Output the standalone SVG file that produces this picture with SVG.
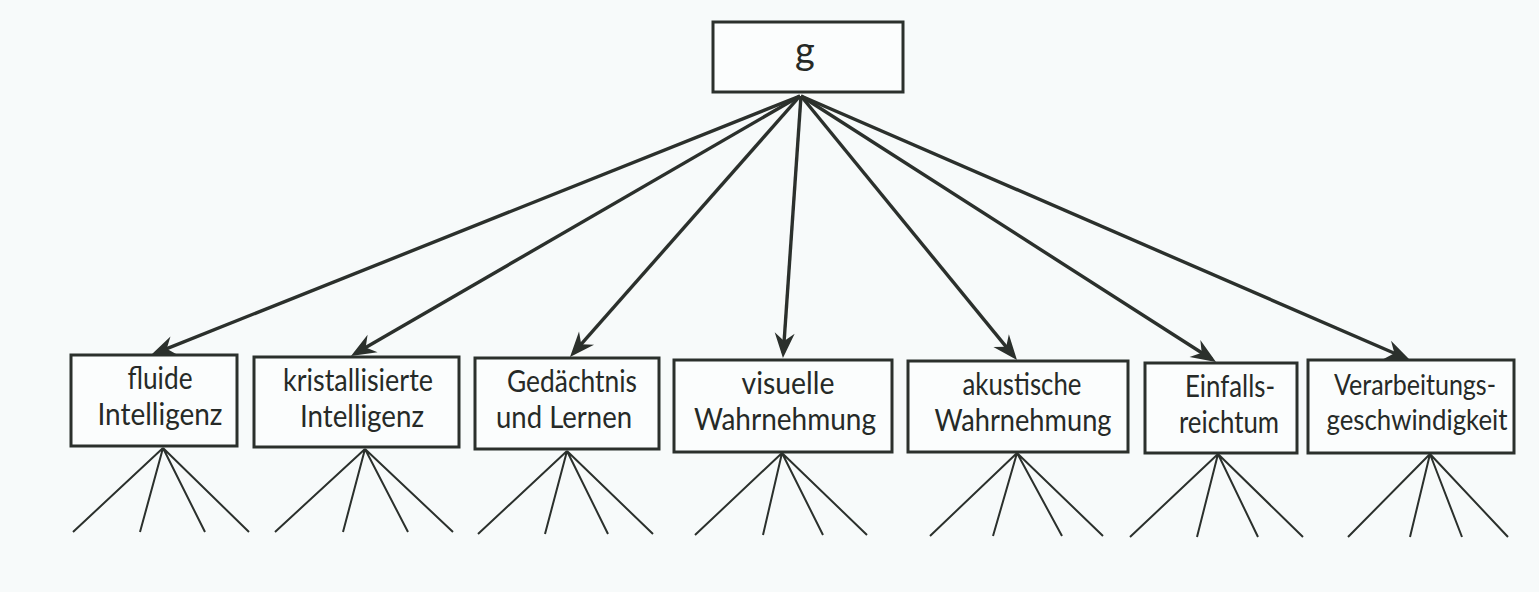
<svg xmlns="http://www.w3.org/2000/svg" width="1539" height="592" viewBox="0 0 1539 592">
  <style>
    .box { fill: #fbfdfd; stroke: #2b302c; stroke-width: 3; }
    .lbl { font-family: Lato, "Open Sans", sans-serif; font-size: 31px; fill: #262a27; text-anchor: middle; }
    .tight { font-size: 29px; }
    .arrow { stroke: #2b302c; stroke-width: 3.4; fill: none; marker-end: url(#head); }
    .leaf { stroke: #2b302c; stroke-width: 2; fill: none; }
  </style>
  <defs>
    <marker id="head" markerUnits="userSpaceOnUse" markerWidth="40" markerHeight="30" viewBox="-30 -15 40 30" refX="-5" refY="0" orient="auto" overflow="visible">
      <path d="M0,0 L-25,-10 L-17,0 L-25,10 Z" fill="#2b302c"/>
    </marker>
  </defs>

  <rect width="1539" height="592" fill="#f7fafa"/>

  <!-- connectors -->
  <g id="connectors">
    <line class="arrow" x1="800" y1="96" x2="155.6" y2="353.1"/>
    <line class="arrow" x1="800" y1="96" x2="355.3" y2="353.5"/>
    <line class="arrow" x1="800" y1="96" x2="573.3" y2="353.2"/>
    <line class="arrow" x1="801" y1="96" x2="783.3" y2="353"/>
    <line class="arrow" x1="801" y1="96" x2="1013.8" y2="356.1"/>
    <line class="arrow" x1="801" y1="96" x2="1211.8" y2="359.3"/>
    <line class="arrow" x1="801" y1="96" x2="1405.4" y2="358"/>

    <!-- fan-out below each factor -->
    <path class="leaf" d="M163,448 L73,532 M163,448 L140,532 M163,448 L205,532 M163,448 L249,532"/>
    <path class="leaf" d="M365,449 L275,532 M365,449 L343,532 M365,449 L408,532 M365,449 L453,532"/>
    <path class="leaf" d="M567,451 L478,534 M567,451 L545,534 M567,451 L608,534 M567,451 L653,534"/>
    <path class="leaf" d="M782,453 L695,535 M782,453 L763,535 M782,453 L823,535 M782,453 L867,535"/>
    <path class="leaf" d="M1017,453 L930,536 M1017,453 L993,536 M1017,453 L1062,536 M1017,453 L1103,536"/>
    <path class="leaf" d="M1218,454 L1130,537 M1218,454 L1197,537 M1218,454 L1258,537 M1218,454 L1303,537"/>
    <path class="leaf" d="M1430,454 L1348,537 M1430,454 L1410,537 M1430,454 L1462,537 M1430,454 L1508,537"/>
  </g>

  <!-- general factor -->
  <g id="node-g">
    <rect class="box" x="713" y="22" width="190" height="70"/>
    <text class="lbl" x="805" y="64" style="font-size:38px">g</text>
  </g>

  <g id="node-fluid">
    <rect class="box" x="71" y="355" width="166" height="91"/>
    <text class="lbl" x="160" y="389" textLength="65" lengthAdjust="spacingAndGlyphs">fluide</text>
    <text class="lbl" x="160" y="425" textLength="125" lengthAdjust="spacingAndGlyphs">Intelligenz</text>
  </g>

  <g id="node-crystal">
    <rect class="box" x="254" y="357" width="205" height="90"/>
    <text class="lbl" x="358" y="391" textLength="150" lengthAdjust="spacingAndGlyphs">kristallisierte</text>
    <text class="lbl" x="362" y="427" textLength="124" lengthAdjust="spacingAndGlyphs">Intelligenz</text>
  </g>

  <g id="node-memory">
    <rect class="box" x="475" y="358" width="184" height="91"/>
    <text class="lbl" x="572" y="392" textLength="130" lengthAdjust="spacingAndGlyphs">Gedächtnis</text>
    <text class="lbl" x="564" y="428" textLength="136" lengthAdjust="spacingAndGlyphs">und Lernen</text>
  </g>

  <g id="node-visual">
    <rect class="box" x="674" y="360" width="218" height="92"/>
    <text class="lbl" x="788" y="394" textLength="93" lengthAdjust="spacingAndGlyphs">visuelle</text>
    <text class="lbl" x="785" y="430" textLength="182" lengthAdjust="spacingAndGlyphs">Wahrnehmung</text>
  </g>

  <g id="node-auditory">
    <rect class="box" x="908" y="361" width="220" height="91"/>
    <text class="lbl" x="1022" y="395" textLength="119" lengthAdjust="spacingAndGlyphs">akustische</text>
    <text class="lbl" x="1023" y="431" textLength="177" lengthAdjust="spacingAndGlyphs">Wahrnehmung</text>
  </g>

  <g id="node-ideas">
    <rect class="box" x="1145" y="363" width="152" height="90"/>
    <text class="lbl" x="1230" y="397" textLength="90" lengthAdjust="spacingAndGlyphs">Einfalls-</text>
    <text class="lbl" x="1229" y="433" textLength="100" lengthAdjust="spacingAndGlyphs">reichtum</text>
  </g>

  <g id="node-speed">
    <rect class="box" x="1308" y="360" width="206" height="93"/>
    <text class="lbl tight" x="1415" y="395" textLength="162" lengthAdjust="spacingAndGlyphs">Verarbeitungs-</text>
    <text class="lbl tight" x="1417" y="430" textLength="181" lengthAdjust="spacingAndGlyphs">geschwindigkeit</text>
  </g>
</svg>
